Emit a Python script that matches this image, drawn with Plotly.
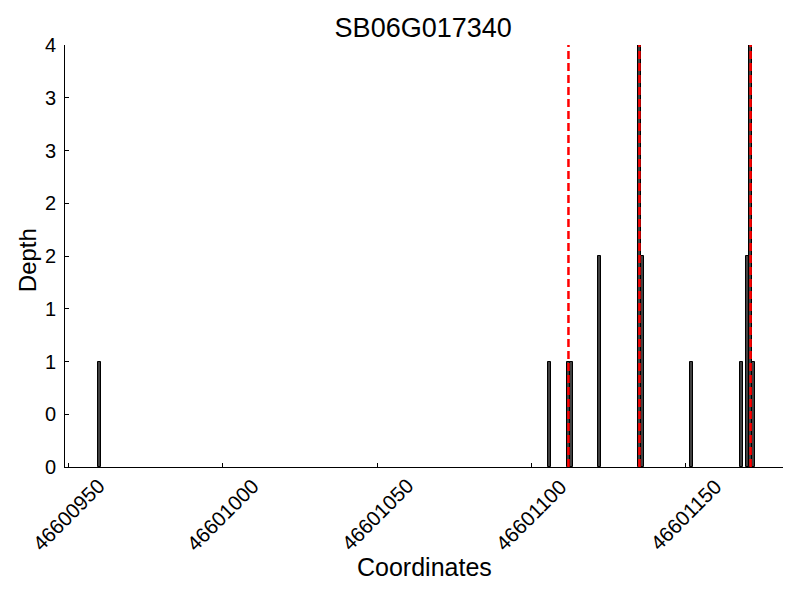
import plotly.graph_objects as go

title_text = "SB06G017340"
positions = [46600960, 46601106, 46601112, 46601113, 46601122, 46601135, 46601136,
             46601152, 46601168, 46601170, 46601171, 46601172]
depths = [1, 1, 1, 1, 2, 4, 2, 1, 1, 2, 4, 1]
marker_lines = [46601112, 46601135, 46601171]
x_tickvals = [46600950, 46601000, 46601050, 46601100, 46601150]
x_ticktext = ["46600950", "46601000", "46601050", "46601100", "46601150"]
y_tickvals = [0, 0.5, 1, 1.5, 2, 2.5, 3, 3.5, 4]
y_ticktext = ["0", "0", "1", "1", "2", "2", "3", "3", "4"]

FONT = "Liberation Sans, Arial, sans-serif"

fig = go.Figure()
fig.add_trace(go.Bar(
    x=positions, y=depths, width=1,
    marker=dict(color="#404040", line=dict(color="black", width=1)),
    showlegend=False,
))

for xv in marker_lines:
    fig.add_shape(type="line", xref="x", yref="y", x0=xv, x1=xv, y0=0, y1=4,
                  line=dict(color="red", width=2.5, dash="8px,4px"))

annotations = []
for v, t in zip(x_tickvals, x_ticktext):
    annotations.append(dict(x=v, xref="x", y=-0.113, yref="paper", text=t,
                            textangle=-45, showarrow=False, xanchor="center",
                            yanchor="middle", font=dict(size=20.5, color="black", family=FONT)))
annotations.append(dict(x=0.5, xref="paper", y=-0.238, yref="paper", text="Coordinates",
                        showarrow=False, xanchor="center", yanchor="middle",
                        font=dict(size=25, color="black", family=FONT)))
annotations.append(dict(x=-0.053, xref="paper", y=0.49, yref="paper", text="Depth",
                        textangle=-90, showarrow=False, xanchor="center", yanchor="middle",
                        font=dict(size=24, color="black", family=FONT)))

fig.update_layout(
    width=800, height=600,
    margin=dict(l=57, r=25, t=37, b=141, autoexpand=False),
    plot_bgcolor="white", paper_bgcolor="white",
    title=dict(text=title_text, x=0.519, xanchor="center", y=0.967, yanchor="middle",
               font=dict(size=27, color="black", family=FONT)),
    font=dict(family=FONT, color="black"),
    annotations=annotations,
    bargap=0,
    xaxis=dict(range=[46600948.9, 46601181.5], tickvals=x_tickvals, showticklabels=False,
               ticks="inside", ticklen=4, tickcolor="black", showline=True, linecolor="black",
               linewidth=1, showgrid=False, zeroline=False),
    yaxis=dict(range=[0, 4], tickvals=y_tickvals, ticktext=y_ticktext,
               ticks="inside", ticklen=4, tickcolor="black", showline=True, linecolor="black",
               linewidth=1, showgrid=False, zeroline=False,
               tickfont=dict(size=20, color="black", family=FONT), ticklabelstandoff=4),
)

fig.write_html("out.html")
